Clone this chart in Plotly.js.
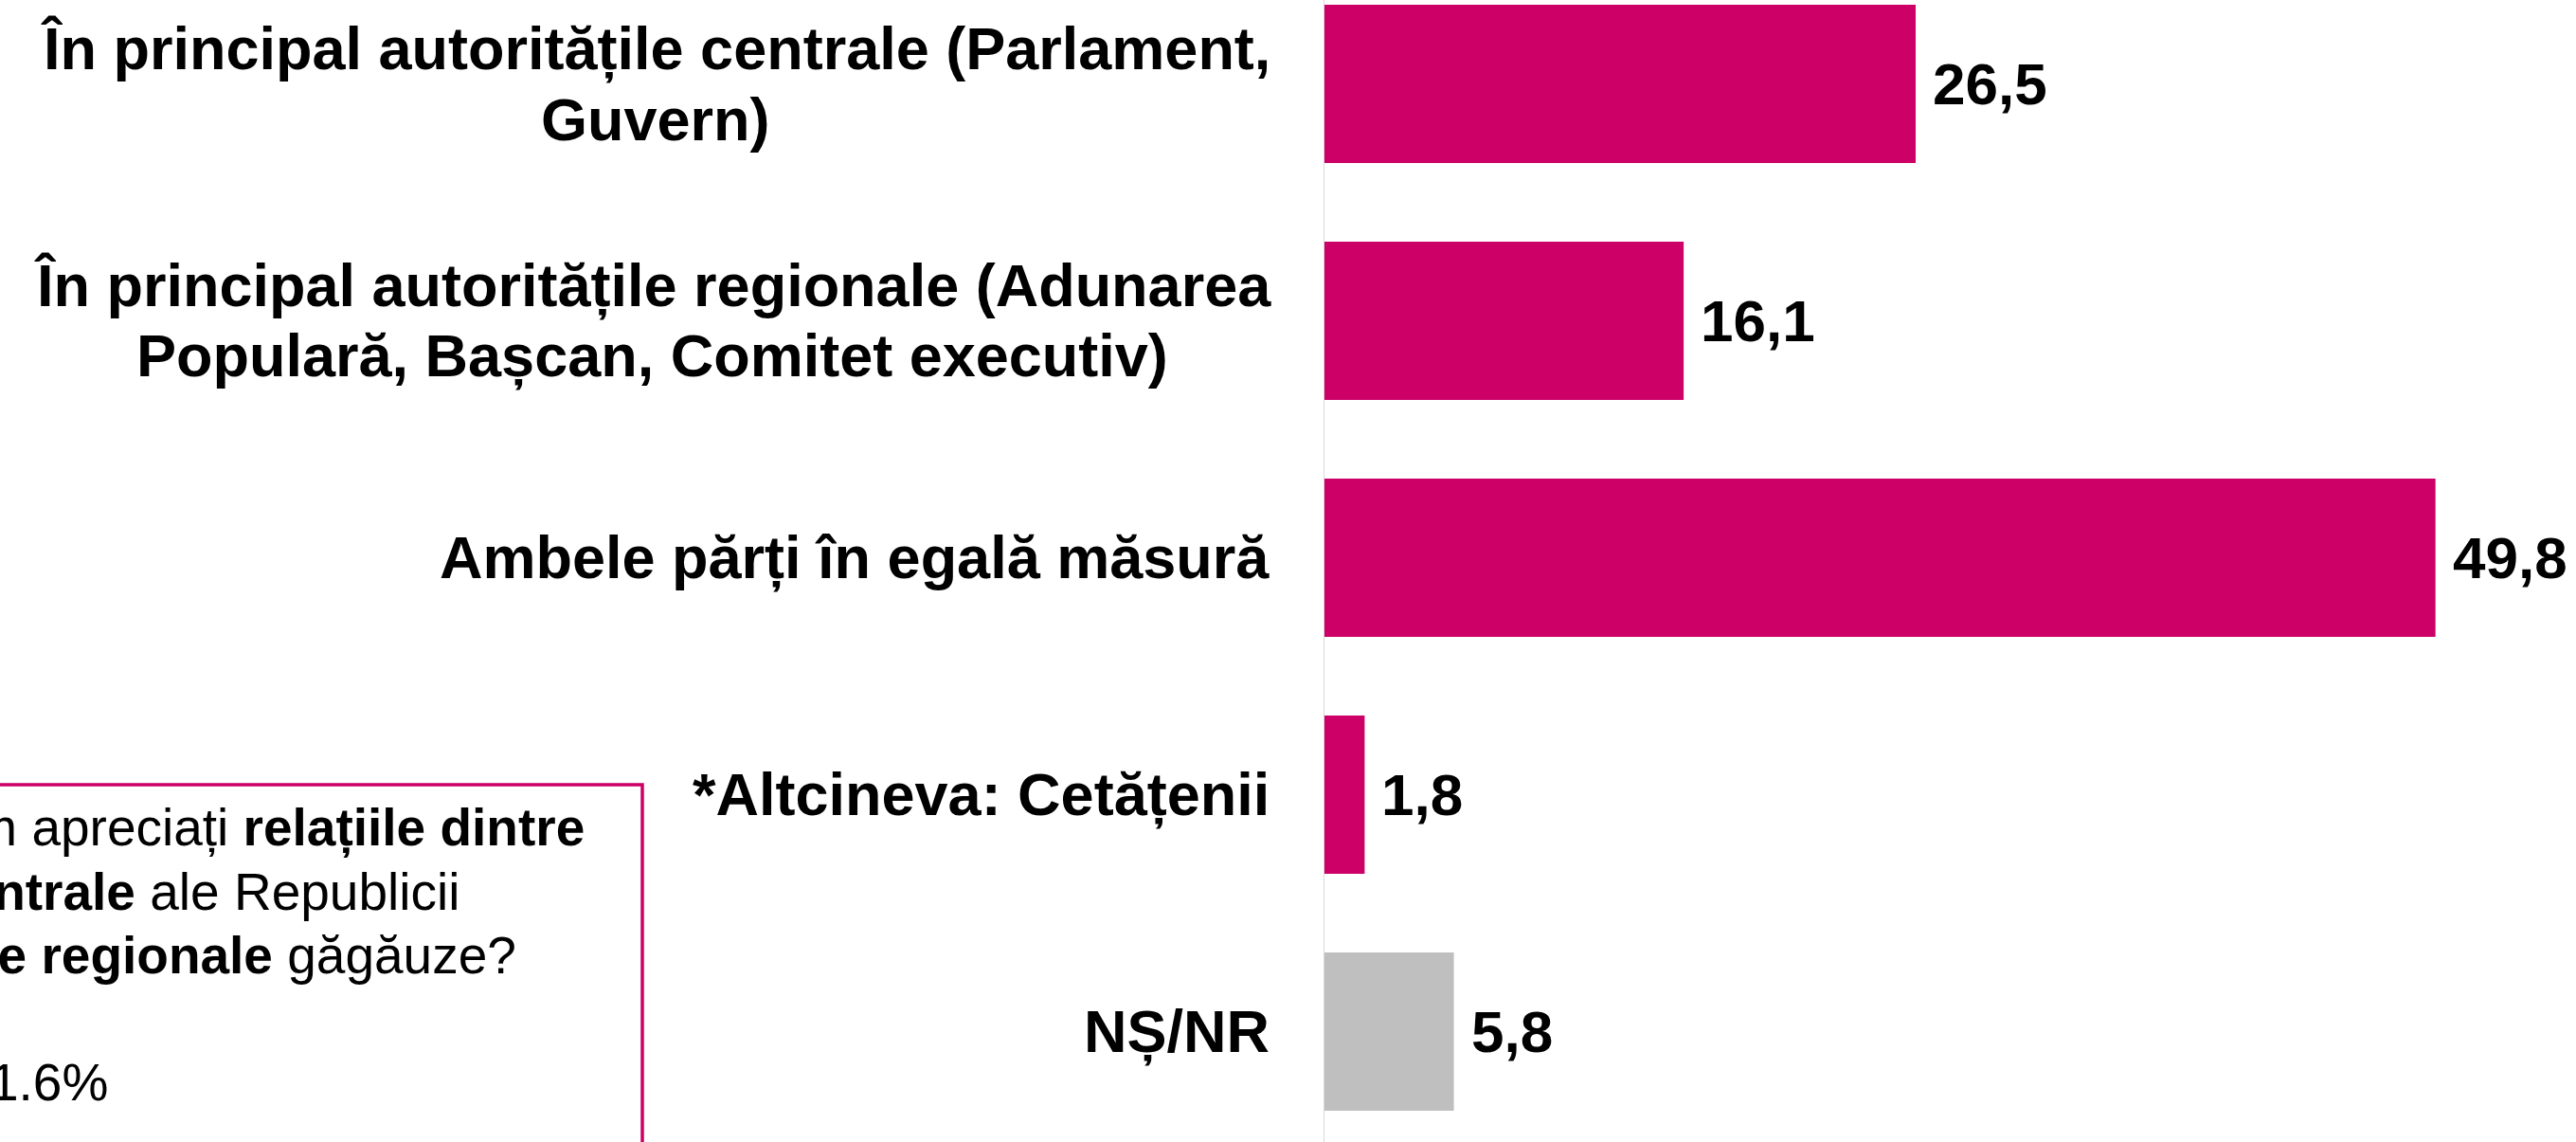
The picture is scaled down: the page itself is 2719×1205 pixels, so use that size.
<!DOCTYPE html>
<html>
<head>
<meta charset="utf-8">
<script src="https://cdn.plot.ly/plotly-3.0.1.min.js"></script>
<style>html,body{margin:0;padding:0;background:#fff;overflow:hidden;}</style>
</head>
<body>
<div id="chart" style="width:2719px;height:1205px;"></div>
<script>
// ---- data ----
const categories = [
  "În principal autoritățile centrale (Parlament,<br>Guvern)",
  "În principal autoritățile regionale (Adunarea<br>Populară, Bașcan, Comitet executiv)",
  "Ambele părți în egală măsură",
  "*Altcineva: Cetățenii",
  "NȘ/NR"
];
const values = [26.5, 16.1, 49.8, 1.8, 5.8];
const valueLabels = ["26,5", "16,1", "49,8", "1,8", "5,8"];
const noteLines = [
  "Cum apreciați <b>relațiile dintre</b>",
  "<b>centrale</b> ale Republicii",
  "<b>autoritățile regionale</b> găgăuze?",
  "1.6%"
];

// ---- styles / layout ----
const PINK = "#CC0066";
const GREY = "#BFBFBF";
const barColors = [PINK, PINK, PINK, PINK, GREY];
const FONT = "Liberation Sans, Arial, sans-serif";
const LABEL_SIZE = 63;
const LABEL_LINE = 74;
const W = 2719, H = 1205, L = 1398;
const LABEL_RIGHT = 1340;
const plotW = W - L;
const px2x = p => (p - L) / plotW;
const px2y = p => 1 - p / H;

const ctx = document.createElement("canvas").getContext("2d");
ctx.font = "bold " + LABEL_SIZE + "px 'Liberation Sans', Arial, sans-serif";
const textW = s => ctx.measureText(s).width;

const trace = {
  type: "bar",
  orientation: "h",
  y: categories,
  x: values,
  marker: {color: barColors, line: {width: 0}},
  hoverinfo: "skip"
};

const annotations = [];
categories.forEach((c, i) => {
  const lines = c.split("<br>");
  const maxW = Math.max(...lines.map(textW));
  const cx = LABEL_RIGHT - maxW / 2;
  lines.forEach((ln, k) => {
    annotations.push({
      xref: "paper", yref: "y", x: px2x(cx), y: c, xanchor: "center", yanchor: "middle",
      yshift: -(k - (lines.length - 1) / 2) * LABEL_LINE,
      text: "<b>" + ln + "</b>", showarrow: false,
      borderpad: 0, font: {family: FONT, size: LABEL_SIZE, color: "#000"}
    });
  });
  annotations.push({
    xref: "x", yref: "y", x: values[i], y: c, xanchor: "left", yanchor: "middle",
    xshift: 17, text: "<b>" + valueLabels[i] + "</b>", showarrow: false,
    borderpad: 0, font: {family: FONT, size: 62, color: "#000"}
  });
});

const noteRight = [618, 486, 546, 115];
const noteCenter = [873, 941, 1008, 1142];
noteLines.forEach((t, i) => {
  annotations.push({
    xref: "paper", yref: "paper", x: px2x(noteRight[i]), y: px2y(noteCenter[i]),
    xanchor: "right", yanchor: "middle", text: t, showarrow: false, align: "left",
    borderpad: 0, font: {family: FONT, size: 55, color: "#000"}
  });
});

const layout = {
  width: W, height: H,
  margin: {l: L, r: 0, t: 0, b: 0, pad: 0},
  paper_bgcolor: "#fff", plot_bgcolor: "#fff",
  showlegend: false,
  bargap: 0.332,
  xaxis: {range: [0, 56.1], showgrid: false, zeroline: false, showticklabels: false, ticks: "", showline: false, fixedrange: true},
  yaxis: {
    type: "category", categoryorder: "array", categoryarray: categories,
    range: [4.466, -0.354], showgrid: false, zeroline: false, showticklabels: false,
    ticks: "", showline: true, linecolor: "#D9D9D9", linewidth: 1, fixedrange: true
  },
  shapes: [{
    type: "rect", xref: "paper", yref: "paper",
    x0: px2x(-40), x1: px2x(678), y0: -0.2, y1: px2y(828),
    line: {color: PINK, width: 3.5}, fillcolor: "rgba(0,0,0,0)", layer: "above"
  }],
  annotations: annotations,
  font: {family: FONT, color: "#000"}
};

Plotly.newPlot("chart", [trace], layout, {displayModeBar: false, staticPlot: true});
</script>
</body>
</html>
